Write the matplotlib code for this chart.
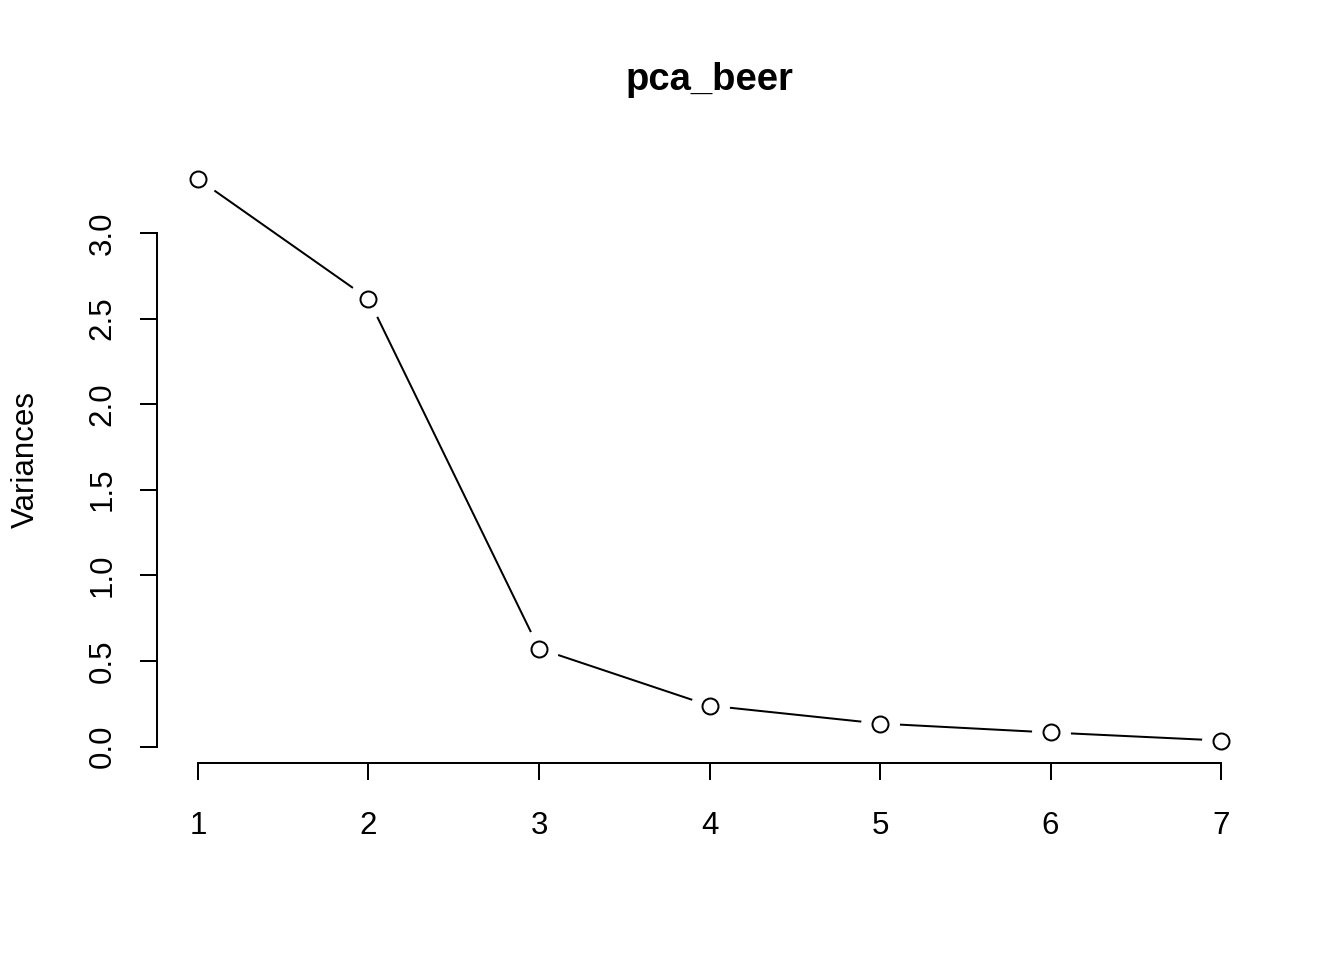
import matplotlib
matplotlib.use("Agg")
import matplotlib.pyplot as plt

# screeplot values (variances of components)
components = [1, 2, 3, 4, 5, 6, 7]
variances = [3.315, 2.615, 0.572, 0.239, 0.134, 0.082, 0.035]
y_ticks = [0.0, 0.5, 1.0, 1.5, 2.0, 2.5, 3.0]

plt.rcParams['font.family'] = ['Liberation Sans', 'DejaVu Sans']

fig = plt.figure(figsize=(13.44, 9.6), dpi=100)
ax = fig.add_axes([157 / 1344, 1 - 763 / 960, 1105 / 1344, (763 - 156.5) / 960])

lw = 1.44
# R type="b": line with gaps around points
ax.plot(components, variances, color="black", lw=lw, zorder=1)
ax.plot(components, variances, "o", ms=27, mfc="white", mec="white", zorder=2)
ax.plot(components, variances, "o", ms=11.5, mfc="white", mec="black", mew=lw, zorder=3)

rng = max(variances) - min(variances)
ax.set_ylim(min(variances) - 0.04 * rng, max(variances) + 0.04 * rng)
ax.set_xlim(1 - 0.24, 7 + 0.24)

for s in ["top", "right"]:
    ax.spines[s].set_visible(False)
ax.spines["left"].set_bounds(0, 3)
ax.spines["bottom"].set_bounds(1, 7)
ax.spines["left"].set_linewidth(lw)
ax.spines["bottom"].set_linewidth(lw)

ax.set_xticks(components)
ax.set_yticks(y_ticks)
ax.set_yticklabels([f"{v:.1f}" for v in y_ticks], rotation=90, va="center")
ax.tick_params(axis="both", length=12.5, width=lw, labelsize=22.5)
ax.tick_params(axis="x", pad=22)
ax.tick_params(axis="y", pad=16)

ax.set_ylabel("Variances", fontsize=22.5, ha="center", va="center")
ax.yaxis.set_label_coords(-0.119, 0.5)

fig.text(709.5 / 1344, 1 - 80 / 960, "pca_beer", ha="center", va="center",
         fontsize=27.5, fontweight="bold")

fig.savefig("out.png", dpi=100)
